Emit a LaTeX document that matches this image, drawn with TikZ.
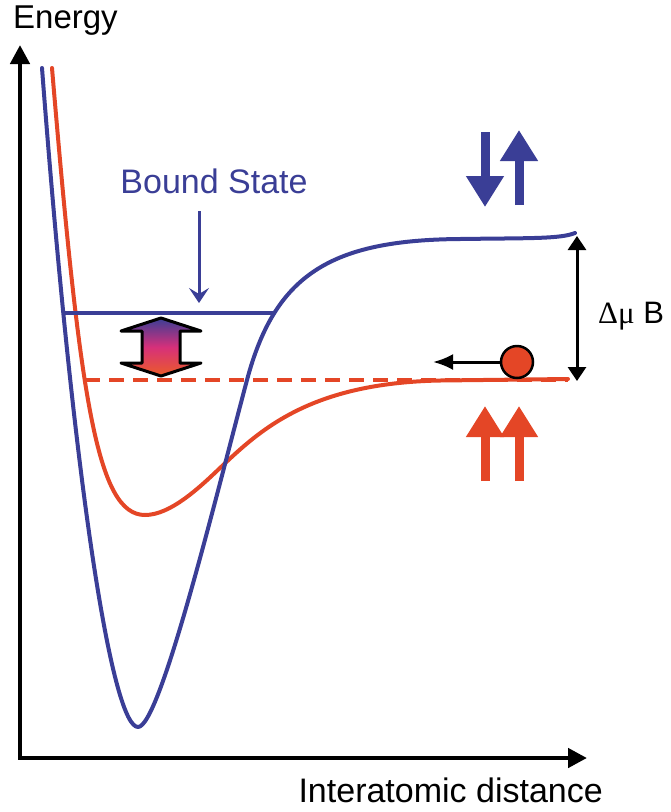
\documentclass[tikz,border=0pt]{standalone}
\usepackage{fontspec}
\setmainfont{Liberation Sans}
\newfontfamily\grkfont{Liberation Serif}
\usetikzlibrary{arrows.meta}
\definecolor{cblue}{RGB}{58,62,150}
\definecolor{cred}{RGB}{228,70,38}
\definecolor{cmag}{RGB}{214,48,122}
\definecolor{corange}{RGB}{236,92,40}
\begin{document}
\begin{tikzpicture}[x=1pt,y=-1pt,
  lbl/.style={inner sep=0pt, font=\fontsize{34}{40}\selectfont},
  curve/.style={line width=4pt, line cap=round, line join=round},
  axisline/.style={line width=4.5pt, line join=miter, black},
  spin/.style={line width=9pt, -{Triangle[width=36pt,length=31pt]}},
  thinarrow/.style={line width=3pt}
]
\useasboundingbox (0,0) rectangle (670,812);

% axes
\coordinate (ytip) at (20,45);
\coordinate (orig) at (20,758);
\coordinate (xtip) at (587,758);
\draw[axisline, {Triangle[width=19pt,length=19pt]}-{Triangle[width=19pt,length=19pt]}] (ytip) -- (orig) -- (xtip);

\node[lbl, anchor=base west, font=\fontsize{33}{40}\selectfont] (energy) at (13,28) {Energy};
\node[lbl, anchor=base east] (dist) at (603,802) {Interatomic distance};

% red dashed asymptote level
\draw[cred, line width=4pt, dash pattern=on 15pt off 9pt] (85,380) -- (568,380);

% red curve
\draw[curve, cred] (52,68) .. controls (80,400) and (97,515) .. (145,515)
  .. controls (170,515) and (198,489) .. (220,468)
  .. controls (260,430) and (310,383) .. (440,380.5) -- (568,379);

% blue curve
\draw[curve, cblue] (42,68) .. controls (75,500) and (113,727) .. (138,727)
  .. controls (160,727) and (215,500) .. (247,380)
  .. controls (275,275) and (330,240) .. (460,239)
  .. controls (530,238) and (560,239) .. (575,233);

% bound state line
\coordinate (bsl) at (62,313);
\coordinate (bsr) at (275,313);
\draw[cblue, line width=3.5pt] (bsl) -- (bsr);

% Bound State label and arrow
\node[lbl, text=cblue, anchor=base] (bound) at (214,193) {Bound State};
\coordinate (bstart) at (199,211);
\coordinate (bend) at (199,303);
\draw[cblue, thinarrow, -{Stealth[length=15pt,width=20pt,inset=6pt]}] (bstart) -- (bend);

% gradient double arrow
\coordinate (dac) at (161,347);
\path[draw=black, line width=3pt, line join=round,
  top color=cblue, bottom color=corange, middle color=cmag]
  (161,318) -- (201,331) -- (180,331) -- (180,363) -- (201,363) -- (161,376)
  -- (121,363) -- (142,363) -- (142,331) -- (121,331) -- cycle;

% spin arrows (blue)
\coordinate (bd1) at (485,132); \coordinate (bd2) at (485,207);
\coordinate (bu1) at (519,205); \coordinate (bu2) at (519,130);
\draw[spin, cblue] (bd1) -- (bd2);
\draw[spin, cblue] (bu1) -- (bu2);

% spin arrows (red)
\coordinate (ru1) at (485,481); \coordinate (ru2) at (485,406);
\coordinate (rv1) at (519,481); \coordinate (rv2) at (519,406);
\draw[spin, cred] (ru1) -- (ru2);
\draw[spin, cred] (rv1) -- (rv2);

% Delta mu B arrow
\coordinate (dtop) at (577,236);
\coordinate (dbot) at (577,381);
\draw[thinarrow, {Triangle[width=18pt,length=14pt]}-{Triangle[width=18pt,length=14pt]}] (dtop) -- (dbot);
\node[inner sep=0pt, anchor=base west, font=\fontsize{31}{36}\selectfont] (dmb) at (598,323) {{\grkfont Δμ} B};

% ball and its arrow
\node[circle, draw=black, line width=2.5pt, fill=cred, minimum size=32pt, inner sep=0pt] (ball) at (517,362) {};
\coordinate (balltip) at (433,362);
\draw[thinarrow, -{Latex[length=20pt,width=16pt]}] (ball.west) -- (balltip);
\end{tikzpicture}
\end{document}
